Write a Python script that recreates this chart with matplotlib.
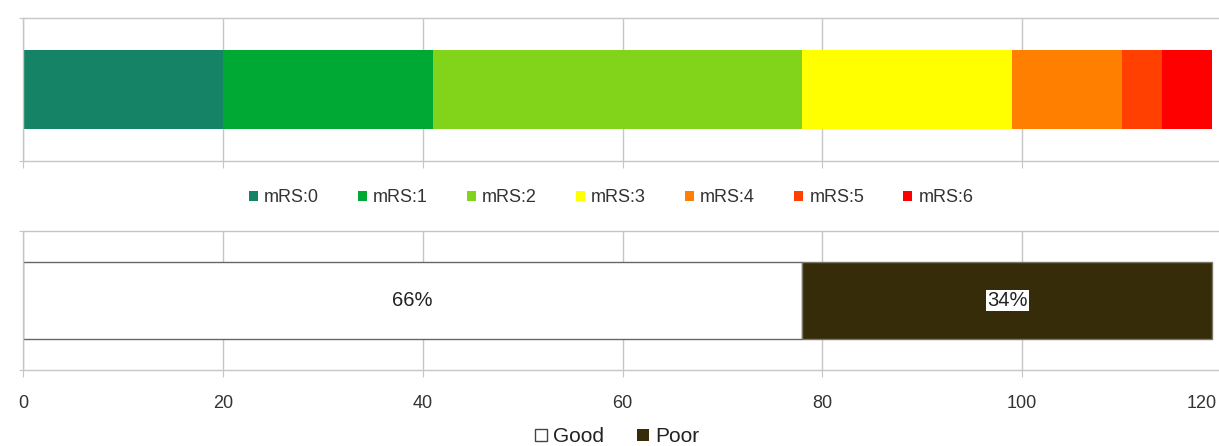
import numpy as np
import matplotlib
matplotlib.use("Agg")
import matplotlib.pyplot as plt
import matplotlib.transforms as mtransforms
from matplotlib.patches import Patch

plt.rcParams['font.family'] = ['Liberation Sans', 'DejaVu Sans']

mrs_labels = ["mRS:0", "mRS:1", "mRS:2", "mRS:3", "mRS:4", "mRS:5", "mRS:6"]
mrs_counts = [20, 21, 37, 21, 11, 4, 5]
mrs_colors = ["#158466", "#00a933", "#81d41a", "#ffff00", "#ff8000", "#ff4000", "#ff0000"]

outcome_labels = ["Good", "Poor"]
outcome_counts = [78, 41]
outcome_pct = ["66%", "34%"]
outcome_colors = ["#ffffff", "#372c0a"]

xticks = [0, 20, 40, 60, 80, 100, 120]

W, H = 1219, 446
fig = plt.figure(figsize=(W / 100, H / 100), dpi=100)

left = 23 / W
width = (1222 - 23) / W
ax1 = fig.add_axes([left, 1 - 161 / H, width, 143 / H])
ax2 = fig.add_axes([left, 1 - 370 / H, width, 139 / H])

grid_c = "#c6c6c6"

def style(ax):
    ax.set_xlim(0, 120)
    ax.set_ylim(-0.5, 0.5)
    ax.set_xticks(xticks)
    ax.set_yticks([-0.5, 0.5])
    ax.set_yticklabels([])
    ax.grid(axis='x', color=grid_c, linewidth=1.0)
    ax.set_axisbelow(True)
    for s in ax.spines.values():
        s.set_color(grid_c)
        s.set_linewidth(1.0)
    ax.spines['right'].set_visible(False)
    ax.tick_params(axis='x', length=5, color=grid_c, labelsize=13,
                   labelcolor="#333333", pad=13)
    ax.tick_params(axis='y', length=3, color=grid_c)

style(ax1)
style(ax2)
ax1.set_xticklabels([])
ax2.set_xticklabels([str(t) for t in xticks])
last = ax2.get_xticklabels()[-1]
last.set_horizontalalignment('right')
last.set_transform(last.get_transform() +
                   mtransforms.ScaledTranslation(-5 / 100, 0, fig.dpi_scale_trans))

starts = np.concatenate([[0], np.cumsum(mrs_counts)[:-1]])
ax1.barh([0] * len(mrs_counts), mrs_counts, left=starts, height=0.552,
         color=mrs_colors, edgecolor='none')

ostarts = np.concatenate([[0], np.cumsum(outcome_counts)[:-1]])
ax2.barh([0] * len(outcome_counts), outcome_counts, left=ostarts, height=0.561,
         color=outcome_colors, edgecolor=["#666666", "#777766"], linewidth=1.0)
for s, c, p in zip(ostarts, outcome_counts, outcome_pct):
    ax2.text(s + c / 2, 0, p, ha='center', va='center', fontsize=14.5, color="#222222",
             bbox=dict(facecolor='white', edgecolor='none', pad=1.0))

h1 = [Patch(facecolor=c, edgecolor='none', label=l) for c, l in zip(mrs_colors, mrs_labels)]
fig.legend(handles=h1, loc='center', bbox_to_anchor=(611 / W, 1 - 198 / H), ncol=7,
           frameon=False, fontsize=13, handlelength=0.5, handleheight=0.5,
           handletextpad=0.35, columnspacing=2.15, labelcolor="#333333")

h2 = [Patch(facecolor=outcome_colors[0], edgecolor="#444444", linewidth=1.0, label=outcome_labels[0]),
      Patch(facecolor=outcome_colors[1], edgecolor='none', label=outcome_labels[1])]
fig.legend(handles=h2, loc='center', bbox_to_anchor=(617 / W, 1 - 437 / H), ncol=2,
           frameon=False, fontsize=15, handlelength=0.55, handleheight=0.55,
           handletextpad=0.3, columnspacing=1.6, labelcolor="#222222")

fig.savefig("out.png", dpi=100)
